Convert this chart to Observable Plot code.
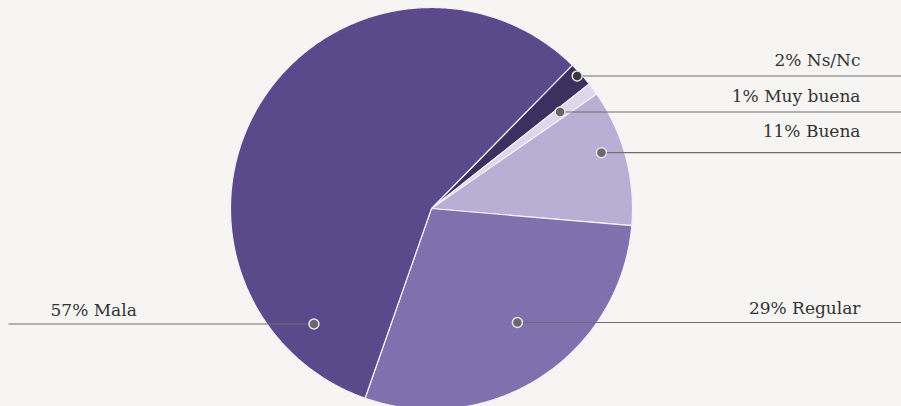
<!DOCTYPE html>
<html>
<head>
<meta charset="utf-8">
<script src="https://cdn.jsdelivr.net/npm/d3@7"></script>
<script src="https://cdn.jsdelivr.net/npm/@observablehq/plot@0.6"></script>
<style>
  html, body { margin: 0; padding: 0; background: #f6f5f3; }
  #chart svg { display: block; }
</style>
</head>
<body>
<div id="chart"></div>
<script>
// ---- data ----
const categories = ["Ns/Nc", "Muy buena", "Buena", "Regular", "Mala"];
const values = [2, 1, 11, 29, 57];
const labels = ["2% Ns/Nc", "1% Muy buena", "11% Buena", "29% Regular", "57% Mala"];
const colors = ["#3b3160", "#dcd7ea", "#b9afd5", "#8070ae", "#5a4a8b"];

// ---- layout ----
const W = 901, H = 406;
const cx = 431, cy = 208, R = 201;
const startAngle = 44.5; // degrees clockwise from top
// leader dot placement (angle in degrees clockwise from top, radius fraction)
const dotAngle = [47.7, 53.1, 71.8, 143, 225.5];
const dotRadius = [0.98, 0.8, 0.89, 0.71, 0.82];
const labelSide = ["right", "right", "right", "right", "left"];
const labelDy = [-15, -15, -21, -14, -13];
const dotFill = ["#3a3a3a", "#666", "#6a6a6a", "#6a6a6a", "#6a6a6a"];

const total = d3.sum(values);
const rad = a => a * Math.PI / 180;
const pt = (a, r) => [r * Math.sin(rad(a)), r * Math.cos(rad(a))];

// slice polygons
const slicePts = [];
let acc = startAngle;
categories.forEach((c, i) => {
  const a0 = acc, a1 = acc + values[i] / total * 360;
  acc = a1;
  const pts = [[0, 0]];
  const n = Math.max(2, Math.ceil((a1 - a0) / 0.5));
  for (let k = 0; k <= n; k++) pts.push(pt(a0 + (a1 - a0) * k / n, 1));
  pts.push([0, 0]);
  pts.forEach(([x, y]) => slicePts.push({cat: c, color: colors[i], x, y}));
});

const xLeft = -cx / R, xRight = (W - cx) / R;
const yBottom = -(H - cy) / R, yTop = cy / R;

const anchors = categories.map((c, i) => {
  const [x, y] = pt(dotAngle[i], dotRadius[i]);
  const right = labelSide[i] === "right";
  return {
    cat: c, label: labels[i], x, y,
    x2: right ? xRight : xLeft + 8 / R,
    tx: right ? xRight - 41 / R : xLeft + 50 / R,
    anchor: right ? "end" : "start",
    dy: labelDy[i], dot: dotFill[i]
  };
});

const chart = Plot.plot({
  width: W, height: H,
  marginTop: 0, marginRight: 0, marginBottom: 0, marginLeft: 0,
  x: {domain: [xLeft, xRight], axis: null},
  y: {domain: [yBottom, yTop], axis: null},
  color: {type: "identity"},
  style: {background: "#f6f5f3", fontFamily: "'DejaVu Serif', serif"},
  marks: [
    Plot.line(slicePts, {x: "x", y: "y", z: "cat", fill: "color", stroke: "#f4f2f8", strokeWidth: 1.2, strokeLinejoin: "round"}),
    Plot.link(anchors, {x1: "x", y1: "y", x2: "x2", y2: "y", stroke: "#6e6e6e", strokeWidth: 1.1}),
    Plot.dot(anchors, {x: "x", y: "y", r: 5, fill: "dot", stroke: "#e6e4ea", strokeWidth: 1.5}),
    ...anchors.map(a => Plot.text([a], {x: "tx", y: "y", text: "label", textAnchor: a.anchor, dy: a.dy, fontSize: 17, fill: "#333"}))
  ]
});
document.getElementById("chart").appendChild(chart);
</script>
</body>
</html>
